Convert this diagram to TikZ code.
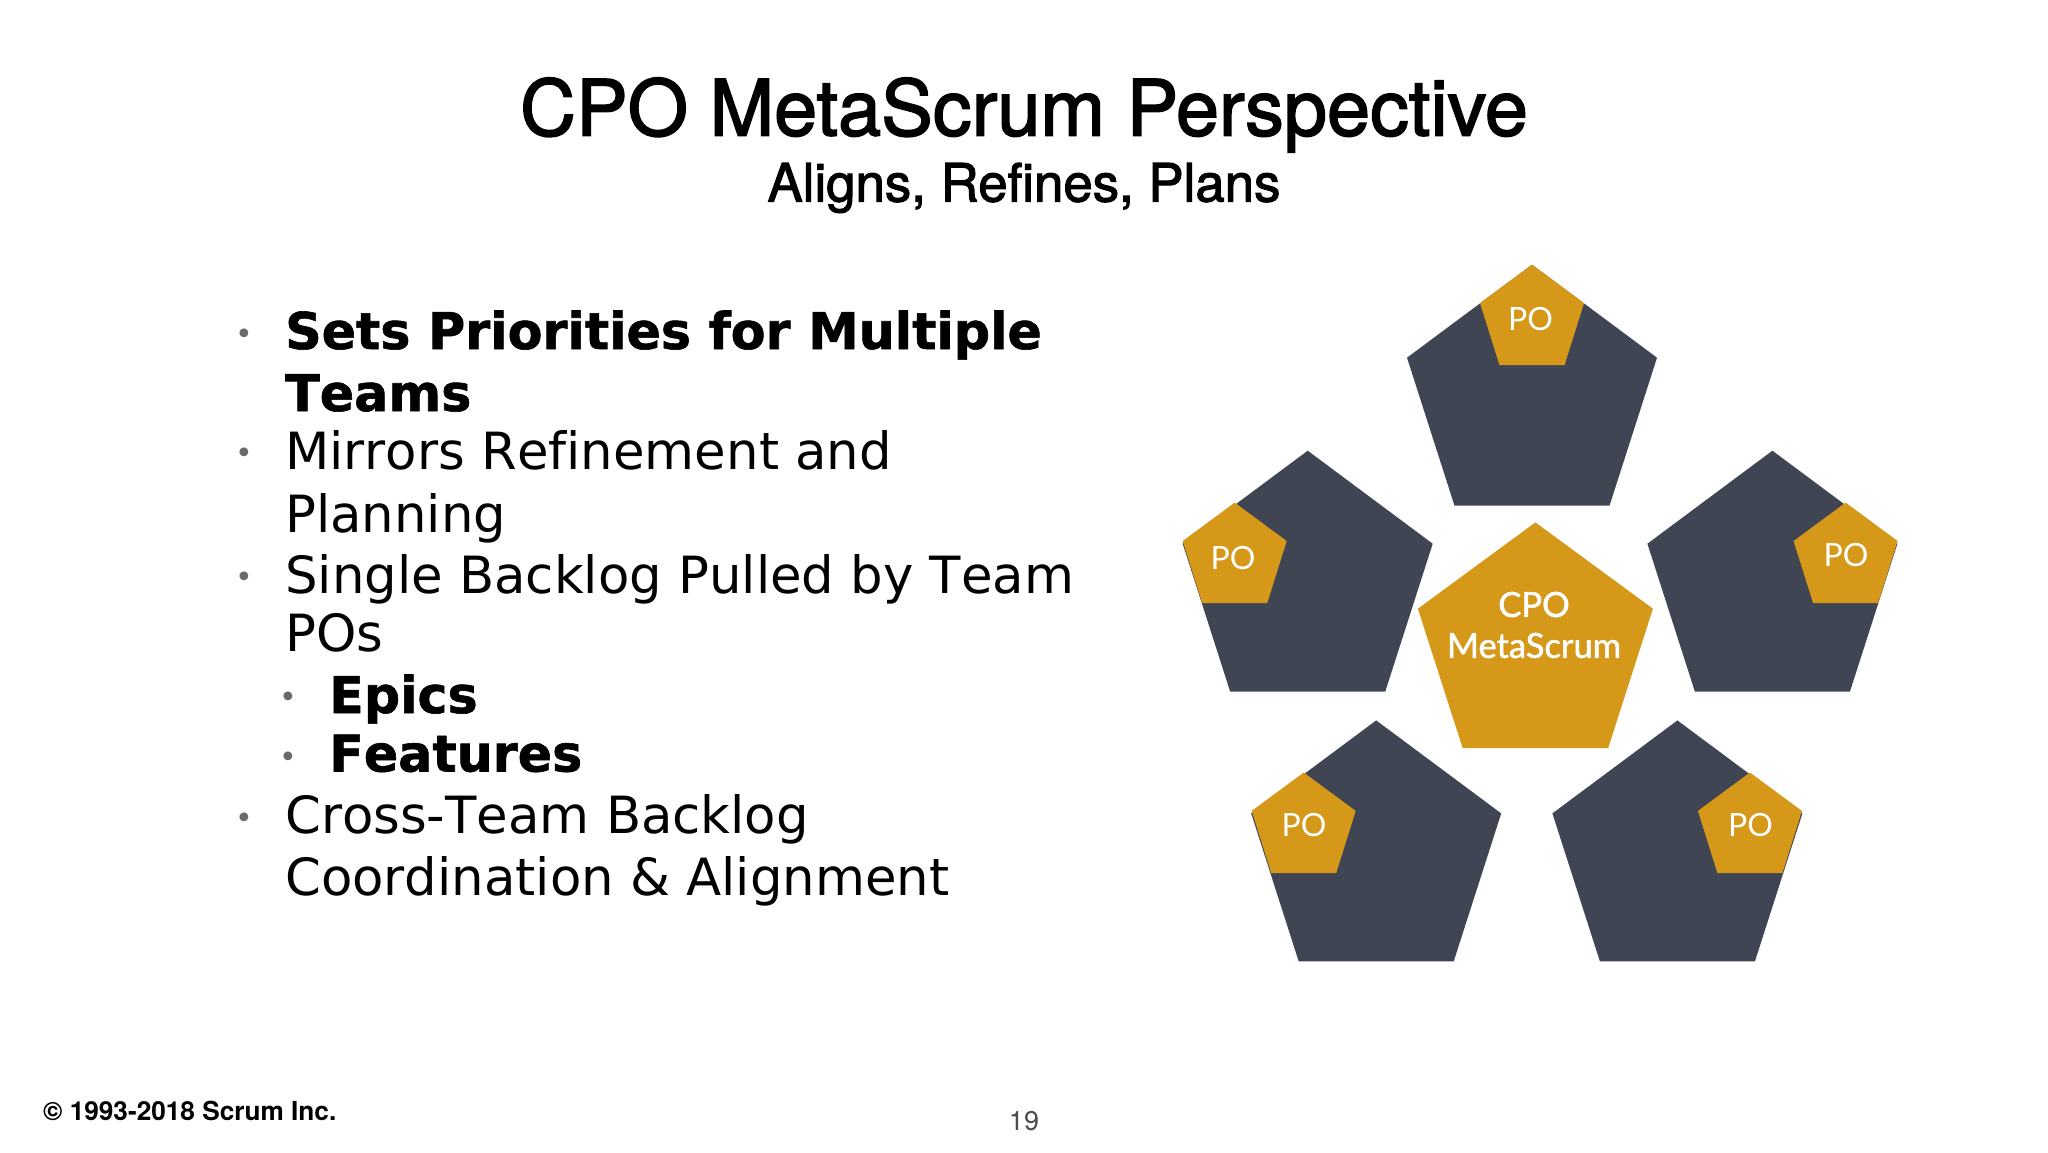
\documentclass[tikz,border=0pt]{standalone}
\usepackage{fontspec}
\setmainfont[Ligatures=NoCommon,Kerning=Off]{DejaVu Sans}
\newfontfamily\headfont{TeX Gyre Heros}
\newfontfamily\gillfont{Lato}
\definecolor{gold}{HTML}{D69818}
\definecolor{slatepent}{HTML}{404553}
\definecolor{bulletgray}{HTML}{6A6A6A}
\newcommand{\darkpent}[2]{\fill[slatepent,shift={(#1,#2)}] (0,0) -- (125,93) -- (77.5,241) -- (-77.5,241) -- (-125,93) -- cycle;}
\newcommand{\goldpent}[2]{\fill[gold,shift={(#1,#2)}] (0,0) -- (52,38.4) -- (32.5,100.5) -- (-32.5,100.5) -- (-52,38.4) -- cycle;}
\tikzset{
  bodyline/.style={anchor=base west,inner sep=0pt,font=\fontsize{51.3}{51.3}\selectfont,text=black},
  boldline/.style={anchor=base west,inner sep=0pt,font=\addfontfeature{FakeBold=1.2}\fontsize{50.7}{50.7}\selectfont\bfseries,text=black},
  bulletmark/.style={anchor=center,inner sep=0pt,text=bulletgray,font=\fontsize{30}{30}\selectfont},
  polabel/.style={inner sep=0pt,text=white,font=\gillfont\fontsize{32}{32}\selectfont},
  cpolabel/.style={inner sep=0pt,text=white,font=\gillfont\addfontfeature{FakeBold=1.5}\fontsize{34.5}{34.5}\selectfont},
}
\begin{document}
\begin{tikzpicture}[x=1pt,y=-1pt]
\fill[white] (0,0) rectangle (2048,1152);
\useasboundingbox (0,0) rectangle (2048,1152);
% titles
\node[anchor=base,inner sep=0pt] (title) at (1024,135.5) {\headfont\addfontfeature{FakeBold=2}\fontsize{77.5}{77.5}\selectfont CPO MetaScrum Perspective};
\node[anchor=base,inner sep=0pt] (subtitle) at (1024,201.5) {\headfont\addfontfeature{FakeBold=2}\fontsize{52.8}{52.8}\selectfont Aligns, Refines, Plans};
% bullets
\node[bulletmark] (b1) at (244,337) {•};
\node[bulletmark] (b2) at (244,456) {•};
\node[bulletmark] (b3) at (244,580) {•};
\node[bulletmark] (b4) at (288.5,700) {•};
\node[bulletmark] (b5) at (288.5,760) {•};
\node[bulletmark] (b6) at (244,821) {•};
% body text
\node[boldline] (l1) at (285,349) {Sets Priorities for Multiple};
\node[boldline] (l2) at (285,411) {Teams};
\node[bodyline] (l3) at (285,469) {Mirrors Refinement and};
\node[bodyline] (l4) at (285,532) {Planning};
\node[bodyline] (l5) at (285,593) {Single Backlog Pulled by Team};
\node[bodyline] (l6) at (285,651) {POs};
\node[boldline] (l7) at (329,713) {Epics};
\node[boldline] (l8) at (329,771.5) {Features};
\node[bodyline] (l9) at (285,833.5) {Cross-Team Backlog};
\node[bodyline] (l10) at (285,895.5) {Coordination \& Alignment};
% pentagons
\darkpent{1532}{264.7}
\darkpent{1307.7}{450.7}
\darkpent{1772.4}{450.7}
\darkpent{1376.2}{720.4}
\darkpent{1677.4}{720.4}
\goldpent{1532}{264.7}
\goldpent{1234.7}{502.6}
\goldpent{1845.6}{502.6}
\goldpent{1303.7}{772.5}
\goldpent{1749.9}{772.5}
\fill[gold,shift={(1535.4,522.4)}] (0,0) -- (117.5,86.3) -- (72.7,225.8) -- (-72.7,225.8) -- (-117.5,86.3) -- cycle;
% labels
\node[polabel] (po1) at (1530.5,319) {PO};
\node[polabel] (po2) at (1233,558.5) {PO};
\node[polabel] (po3) at (1846,555) {PO};
\node[polabel] (po4) at (1304,825) {PO};
\node[polabel] (po5) at (1750.5,825) {PO};
\node[cpolabel] (cpo) at (1534,604.5) {CPO};
\node[cpolabel] (meta) at (1534,645.5) {MetaScrum};
% footer
\node[anchor=base west,inner sep=0pt] (copy) at (43,1120) {\headfont\bfseries\fontsize{26.2}{26.2}\selectfont © 1993-2018 Scrum Inc.};
\node[anchor=base,inner sep=0pt,text=black!70] (page) at (1024,1130) {\headfont\fontsize{27}{27}\selectfont 19};
\end{tikzpicture}
\end{document}
